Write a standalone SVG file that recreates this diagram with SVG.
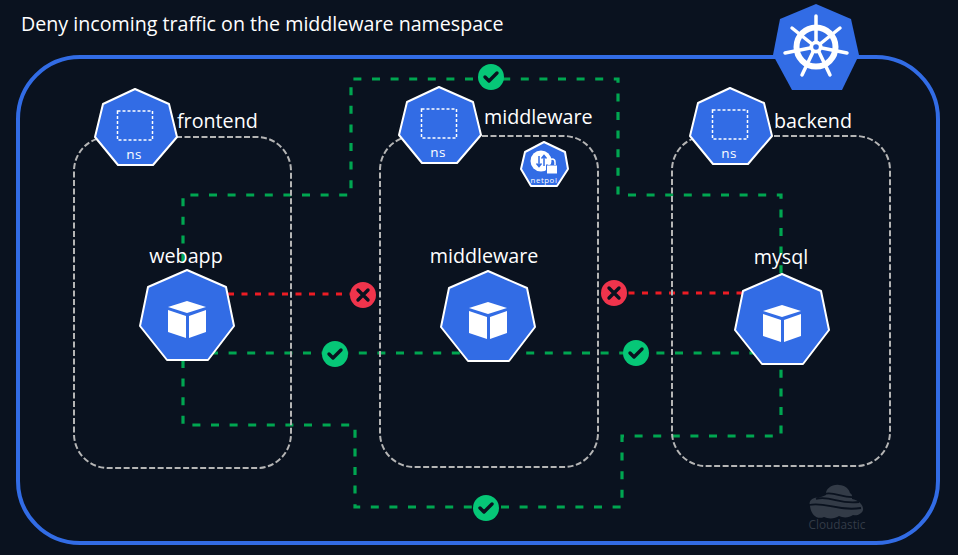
<svg xmlns="http://www.w3.org/2000/svg" width="958" height="555" viewBox="0 0 958 555">
<style>
text{font-family:"Open Sans","Noto Sans",sans-serif;fill:#fff}
.lbl{font-size:19.700px}
.grp{fill:none;stroke:#b5b5b5;stroke-width:2;stroke-dasharray:6 2.500}
.ok{fill:none;stroke:#00a651;stroke-width:3.200;stroke-dasharray:8 10.600}
.no{fill:none;stroke:#ed1c24;stroke-width:3.200;stroke-dasharray:6 7.500}
.hex{fill:#326ce5;stroke:#fff;stroke-width:2;stroke-linejoin:round}
.mark{fill:none;stroke:#0a121f;stroke-width:3.400;stroke-linecap:round;stroke-linejoin:round}
</style>
<defs>
<g id="pod">
<polygon class="hex" points="0,0 39,17 47,56 21,90 -20,90 -47,56 -39,17"/>
<polygon fill="#fff" points="0,31 -19,37 0,43 19,37"/>
<polygon fill="#fff" points="-19,40 -1,46 -1,68 -19,62"/>
<polygon fill="#fff" points="19,40 2,46 2,68 19,62"/>
</g>
<g id="ns">
<polygon class="hex" points="0,0 34,15 42,48 18,76 -17,76 -40,48 -32,15"/>
<rect x="-17.500" y="22" width="35" height="29" fill="none" stroke="#fff" stroke-width="1.500" stroke-dasharray="3 2"/>
<text x="-1" y="70" font-size="13.500" text-anchor="middle" letter-spacing=".5">ns</text>
</g>
<g id="check"><circle r="13" fill="#06c777"/><path class="mark" d="M-6,0 L-2,4 L6,-4"/></g>
<g id="cross"><circle r="13" fill="#f0344c"/><path class="mark" d="M-5,-5 L5,5 M5,-5 L-5,5"/></g>
</defs>
<rect width="958" height="555" fill="#0a121f"/>
<rect x="18" y="57" width="920" height="486" rx="62" fill="none" stroke="#326ce5" stroke-width="4"/>
<text x="21" y="31" font-size="19.650">Deny incoming traffic on the middleware namespace</text>
<g id="logo">
<polygon fill="#326ce5" points="816,4 851,19 859,55 842,90 792,90 773,55 780,19"/>
<g fill="none" stroke="#fff" stroke-linecap="round">
<circle cx="816" cy="47" r="19.500" stroke-width="6"/>
<path stroke-width="3.500" d="M816,16v25M840,28l-20,16M847,53l-25,-5M830,75l-11,-23M802,75l11,-23M785,53l25,-5M792,28l20,16"/>
</g>
<circle cx="816" cy="47" r="6.500" fill="#fff"/>
<circle cx="816" cy="47" r="2.800" fill="#326ce5"/>
</g>
<g id="connectors">
<path class="ok" d="M183,262V195H351V79H618V195H781V275"/>
<path class="ok" d="M210,353H780"/>
<path class="ok" d="M183,360V425H355V507H622V436H781V365"/>
<path class="no" d="M228,294H363"/>
<path class="no" d="M615,293H745"/>
</g>
<g id="group-frontend"><rect class="grp" x="74" y="137" width="217" height="331" rx="34"/></g>
<g id="group-middleware"><rect class="grp" x="380" y="136" width="218" height="331" rx="34"/></g>
<g id="group-backend"><rect class="grp" x="672" y="136" width="218" height="330" rx="34"/></g>
<g id="ns-frontend"><use href="#ns" x="135" y="89"/><text class="lbl" x="177" y="128">frontend</text></g>
<g id="ns-middleware"><use href="#ns" x="439" y="87"/><text class="lbl" x="484" y="124">middleware</text></g>
<g id="ns-backend"><use href="#ns" x="730" y="88"/><text class="lbl" x="774" y="128">backend</text></g>
<g id="netpol">
<polygon class="hex" stroke-width="1.500" points="544,142 565,152 568,169 557,186 531,186 521,169 525,152"/>
<circle cx="541" cy="161" r="10.500" fill="#fff"/>
<path d="M539,156v10m-2.500,-2.500l2.500,3l2.500,-3M544,166v-10m-2.500,2.500l2.500,-3l2.500,3" fill="none" stroke="#326ce5" stroke-width="1.500"/>
<rect x="546.500" y="165" width="11" height="9" fill="#fff" stroke="#326ce5" stroke-width="1"/>
<path d="M549,165v-3a3,3 0 0 1 6,0v3" fill="none" stroke="#fff" stroke-width="1.500"/>
<text x="544" y="182.500" font-size="7.800" text-anchor="middle" letter-spacing=".6">netpol</text>
</g>
<g id="pod-webapp"><use href="#pod" x="187" y="270"/><text class="lbl" x="186" y="263" text-anchor="middle">webapp</text></g>
<g id="pod-middleware"><use href="#pod" x="488" y="271"/><text class="lbl" x="484" y="263" text-anchor="middle">middleware</text></g>
<g id="pod-mysql"><use href="#pod" x="782" y="274"/><text class="lbl" x="781" y="264" text-anchor="middle">mysql</text></g>
<g id="status">
<use href="#check" x="491" y="77"/>
<use href="#check" x="486" y="508"/>
<use href="#check" x="335" y="354"/>
<use href="#check" x="636" y="353"/>
<use href="#cross" x="363" y="295"/>
<use href="#cross" x="614" y="293"/>
</g>
<g id="cloudastic">
<path fill="#333b47" d="M810,506c-2,-5 3,-9 8,-8c3,-1 6,-2 8,-3c-1,-6 6,-11 13,-10c6,0 10,4 11,8c3,2 2,4 2,6c6,1 12,6 11,11c-1,4 -6,6 -10,5c-4,3 -10,3 -14,1c-4,3 -11,3 -15,1c-7,3 -13,-2 -14,-11z"/>
<path fill="none" stroke="#0a121f" stroke-width="1.800" d="M824,494c10,-3 18,4 30,3M816,499c14,-4 24,6 43,3M809,505c16,-4 28,7 52,3"/>
<text x="837" y="529" font-size="11.800" text-anchor="middle" style="fill:#333b47">Cloudastic</text>
</g>
</svg>
